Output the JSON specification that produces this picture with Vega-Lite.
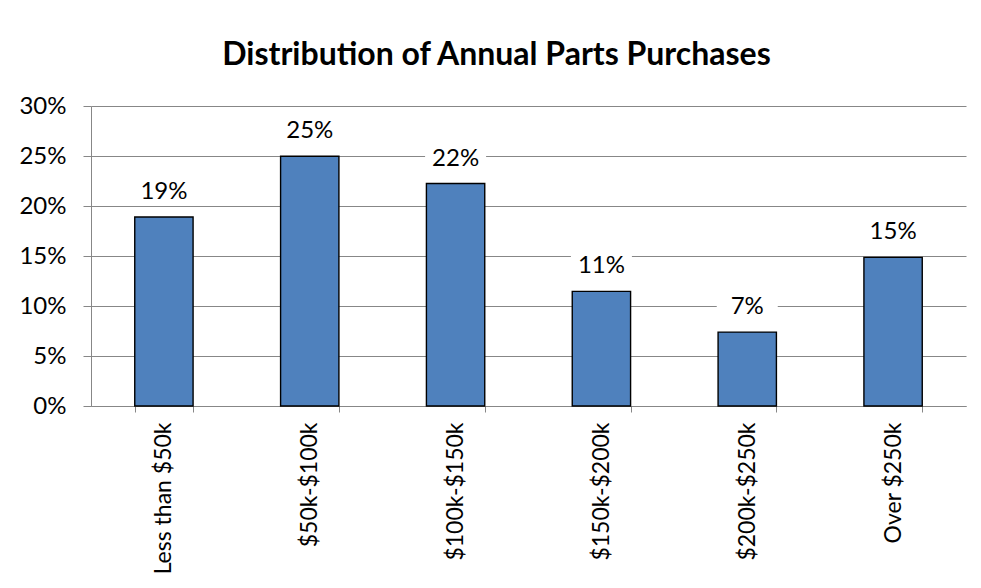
{
  "$schema": "https://vega.github.io/schema/vega-lite/v6.json",
  "width": 875,
  "height": 300,
  "autosize": {"type": "none"},
  "padding": {"left": 91, "top": 106, "right": 15, "bottom": 182},
  "background": "white",
  "title": {
    "text": "Distribution of Annual Parts Purchases",
    "font": "Lato",
    "fontSize": 32,
    "fontWeight": "bold",
    "color": "black",
    "anchor": "middle",
    "frame": "group",
    "dx": -32,
    "offset": 22
  },
  "data": {
    "values": [
      {"range": "Less than $50k", "share": 0.189},
      {"range": "$50k-$100k", "share": 0.2497},
      {"range": "$100k-$150k", "share": 0.2225},
      {"range": "$150k-$200k", "share": 0.1146},
      {"range": "$200k-$250k", "share": 0.0739},
      {"range": "Over $250k", "share": 0.1486}
    ]
  },
  "encoding": {
    "x": {
      "field": "range",
      "type": "nominal",
      "sort": null,
      "title": null,
      "scale": {"paddingInner": 0.6, "paddingOuter": 0.3},
      "axis": {
        "labelAngle": -90,
        "labelAlign": "right",
        "labelBaseline": "middle",
        "labelFont": "Lato",
        "labelFontSize": 23,
        "labelColor": "black",
        "labelPadding": 10,
        "tickBand": "extent",
        "tickSize": 6,
        "tickColor": "#878787",
        "domainColor": "#878787",
        "grid": false
      }
    },
    "y": {
      "field": "share",
      "type": "quantitative",
      "title": null,
      "scale": {"domain": [0, 0.3], "nice": false},
      "axis": {
        "values": [0, 0.05, 0.1, 0.15, 0.2, 0.25, 0.3],
        "format": ".0%",
        "labelFont": "Lato",
        "labelFontSize": 24,
        "labelColor": "black",
        "labelPadding": 17,
        "tickSize": 8,
        "tickColor": "#878787",
        "domainColor": "#878787",
        "gridColor": "#878787",
        "gridWidth": 1.2
      }
    }
  },
  "layer": [
    {
      "mark": {"type": "bar", "fill": "#4F81BD", "stroke": "black", "strokeWidth": 1.4}
    },
    {
      "mark": {
        "type": "point",
        "shape": "M-1,-0.42H1V0.42H-1Z",
        "size": 3721,
        "filled": true,
        "fill": "white",
        "opacity": 1,
        "strokeWidth": 0,
        "yOffset": -25
      }
    },
    {
      "mark": {
        "type": "text",
        "font": "Lato",
        "fontSize": 24,
        "color": "black",
        "baseline": "middle",
        "align": "center",
        "yOffset": -25
      },
      "encoding": {
        "text": {"field": "share", "type": "quantitative", "format": ".0%"}
      }
    }
  ],
  "config": {
    "view": {"stroke": null}
  }
}
